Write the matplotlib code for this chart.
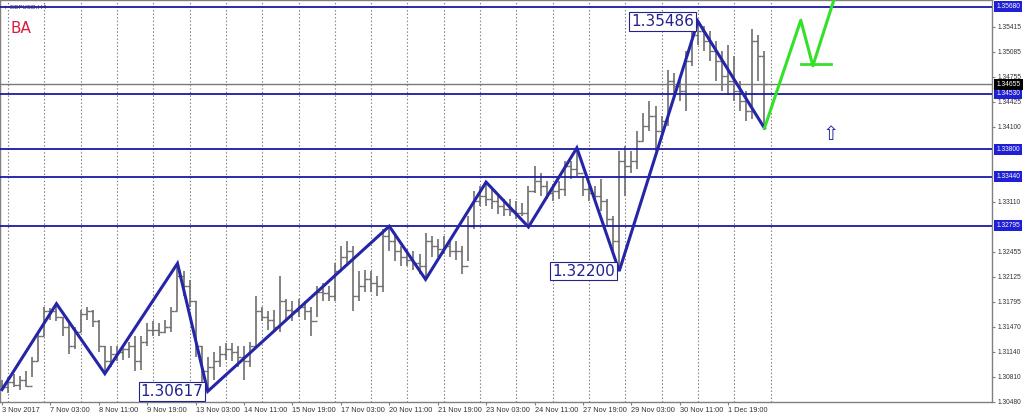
import matplotlib
matplotlib.use("Agg")
import matplotlib.pyplot as plt
from matplotlib.transforms import blended_transform_factory

# ---------------- data (GBPUSD H4) ----------------
highs = [1.3077, 1.3081, 1.3085, 1.3082, 1.3088, 1.3107, 1.3140, 1.3173, 1.3172, 1.3177,
         1.3160, 1.3154, 1.3147, 1.3169, 1.3173, 1.3169, 1.3156, 1.3121, 1.3121, 1.3121,
         1.3123, 1.3127, 1.3134, 1.3134, 1.3151, 1.3154, 1.3151, 1.3156, 1.3173, 1.3230,
         1.3220, 1.3208, 1.3180, 1.3121, 1.3107, 1.3114, 1.3121, 1.3125, 1.3125, 1.3121,
         1.3121, 1.3127, 1.3187, 1.3173, 1.3167, 1.3169, 1.3213, 1.3183, 1.3180, 1.3183,
         1.3180, 1.3173, 1.3200, 1.3204, 1.3200, 1.3230, 1.3253, 1.3259, 1.3253, 1.3220,
         1.3222, 1.3220, 1.3213, 1.3275, 1.3279, 1.3270, 1.3253, 1.3249, 1.3246, 1.3243,
         1.3270, 1.3266, 1.3262, 1.3266, 1.3262, 1.3259, 1.3253, 1.3292, 1.3325, 1.3332,
         1.3337, 1.3328, 1.3319, 1.3315, 1.3315, 1.3312, 1.3309, 1.3332, 1.3358, 1.3349,
         1.3338, 1.3334, 1.3338, 1.3365, 1.3365, 1.3382, 1.3345, 1.3332, 1.3332, 1.3341,
         1.3315, 1.3292, 1.3378, 1.3385, 1.3378, 1.3404, 1.3428, 1.3444, 1.3437, 1.3424,
         1.3484, 1.3481, 1.3477, 1.3510, 1.3547, 1.35486, 1.3543, 1.3536, 1.3523, 1.3510,
         1.3517, 1.3503, 1.3470, 1.3457, 1.3539, 1.3530, 1.3510]
lows = [1.3064, 1.3059, 1.3067, 1.3064, 1.3067, 1.3081, 1.3101, 1.3134, 1.3156, 1.3154,
        1.3134, 1.3111, 1.3117, 1.3140, 1.3156, 1.3147, 1.3114, 1.3085, 1.3094, 1.3101,
        1.3103, 1.3106, 1.3088, 1.3090, 1.3121, 1.3134, 1.3134, 1.3138, 1.3140, 1.3167,
        1.3187, 1.3173, 1.3107, 1.3068, 1.30617, 1.3077, 1.3094, 1.3103, 1.3101, 1.3094,
        1.3077, 1.3094, 1.3121, 1.3154, 1.3143, 1.3140, 1.3140, 1.3156, 1.3154, 1.3160,
        1.3156, 1.3134, 1.3160, 1.3180, 1.3180, 1.3180, 1.3220, 1.3230, 1.3167, 1.3180,
        1.3193, 1.3193, 1.3187, 1.3193, 1.3246, 1.3233, 1.3226, 1.3226, 1.3222, 1.3216,
        1.3209, 1.3239, 1.3239, 1.3243, 1.3239, 1.3235, 1.3216, 1.3233, 1.3275, 1.3305,
        1.3305, 1.3301, 1.3295, 1.3292, 1.3292, 1.3288, 1.3292, 1.3278, 1.3323, 1.3319,
        1.3315, 1.3312, 1.3315, 1.3319, 1.3341, 1.3345, 1.3319, 1.3312, 1.3312, 1.3299,
        1.3279, 1.3246, 1.3220, 1.3319, 1.3349, 1.3354, 1.3391, 1.3404, 1.3378, 1.3404,
        1.3411, 1.3451, 1.3444, 1.3431, 1.3490, 1.3517, 1.3510, 1.3497, 1.3470, 1.3457,
        1.3451, 1.3444, 1.3431, 1.3418, 1.3420, 1.3470, 1.3408]
closes = [1.3068, 1.3074, 1.3070, 1.3077, 1.3069, 1.3101, 1.3134, 1.3167, 1.3167, 1.3160,
          1.3147, 1.3121, 1.3140, 1.3164, 1.3167, 1.3154, 1.3121, 1.3101, 1.3111, 1.3114,
          1.3117, 1.3121, 1.3101, 1.3127, 1.3143, 1.3143, 1.3140, 1.3147, 1.3167, 1.3213,
          1.3200, 1.3180, 1.3121, 1.3088, 1.3094, 1.3101, 1.3111, 1.3117, 1.3114, 1.3107,
          1.3101, 1.3121, 1.3167, 1.3160, 1.3156, 1.3147, 1.3180, 1.3169, 1.3167, 1.3173,
          1.3167, 1.3154, 1.3193, 1.3191, 1.3187, 1.3220, 1.3239, 1.3246, 1.3187, 1.3200,
          1.3209, 1.3204, 1.3200, 1.3266, 1.3259, 1.3246, 1.3239, 1.3235, 1.3230, 1.3226,
          1.3259, 1.3253, 1.3249, 1.3253, 1.3246, 1.3246, 1.3226, 1.3279, 1.3312, 1.3319,
          1.3315, 1.3312, 1.3305, 1.3301, 1.3299, 1.3296, 1.3296, 1.3325, 1.3338, 1.3332,
          1.3323, 1.3325, 1.3328, 1.3358, 1.3354, 1.3349, 1.3328, 1.3323, 1.3319, 1.3312,
          1.3288, 1.3259, 1.3365, 1.3358, 1.3365, 1.3391, 1.3411, 1.3424, 1.3404, 1.3418,
          1.3470, 1.3464, 1.3457, 1.3497, 1.3530, 1.3536, 1.3523, 1.3510, 1.3497, 1.3477,
          1.3470, 1.3457, 1.3444, 1.3431, 1.3523, 1.3503, 1.34655]
first_open = 1.3070

zz_bars = [0, 9, 17, 29, 34, 64, 70, 80, 87, 95, 102, 115, 126]
zz_prices = [1.3064, 1.3177, 1.3085, 1.3230, 1.30617, 1.3279, 1.3209, 1.3337,
             1.3278, 1.3382, 1.3220, 1.35486, 1.3408]
labelled_bars = [34, 102, 115]
labelled_prices = [1.30617, 1.32200, 1.35486]

proj_bars = [126, 132, 134, 138]
proj_prices = [1.3408, 1.3550, 1.3490, 1.3590]
target_bars = [132, 137]
target_price = 1.3492
arrow_bar = 137
arrow_price = 1.3400

blue_levels = [1.35680, 1.34530, 1.33800, 1.33440, 1.32795]
bid_level = 1.34655
price_ticks = [1.35415, 1.35085, 1.34755, 1.34425, 1.34100, 1.33110, 1.32455,
               1.32125, 1.31795, 1.31470, 1.31140, 1.30810, 1.30480]
date_bars = [0, 8, 16, 24, 32, 40, 48, 56, 64, 72, 80, 88, 96, 104, 112, 120]
date_labels = ['3 Nov 2017', '7 Nov 03:00', '8 Nov 11:00', '9 Nov 19:00',
               '13 Nov 03:00', '14 Nov 11:00', '15 Nov 19:00', '17 Nov 03:00',
               '20 Nov 11:00', '21 Nov 19:00', '23 Nov 03:00', '24 Nov 11:00',
               '27 Nov 19:00', '29 Nov 03:00', '30 Nov 11:00', '1 Dec 19:00']
day_start_bars = [1 + 6 * k for k in range(22)]

# ---------------- drawing ----------------
W, H = 1024, 417
fig = plt.figure(figsize=(W / 100, H / 100), dpi=100)
fig.patch.set_facecolor('white')
ax = fig.add_axes([0.0, 15 / H, 992 / W, 402 / H])
ax.set_xlim(-0.33, 163.6)
ax.set_ylim(1.30477, 1.35766)

for s in ax.spines.values():
    s.set_color('#808080')
    s.set_linewidth(1.0)

# daily separators
ax.vlines(day_start_bars, 1.30477, 1.35766, colors='#7a7a7a', linestyles=(0, (1.2, 2.0)),
          linewidth=0.8, zorder=1)

# OHLC bars
n = len(closes)
idx = list(range(n))
opens = [first_open] + closes[:-1]
bar_col = '#6e6e6e'
ax.vlines(idx, lows, highs, colors=bar_col, linewidth=1.2, zorder=2)
ax.hlines(opens, [i - 0.5 for i in idx], idx, colors=bar_col, linewidth=1.0, zorder=2)
ax.hlines(closes, idx, [i + 0.5 for i in idx], colors=bar_col, linewidth=1.0, zorder=2)

# levels
for lv in blue_levels:
    ax.axhline(lv, color='#1a1aa6', linewidth=1.3, zorder=3)
ax.axhline(bid_level, color='#7a7a7a', linewidth=1.0, zorder=3)

# zigzag
ax.plot(zz_bars, zz_prices, color='#2525a8', linewidth=2.2, zorder=4,
        solid_joinstyle='miter')

# projection
ax.plot(proj_bars, proj_prices, color='#35e02a', linewidth=2.2, zorder=4, clip_on=True)
ax.plot(target_bars, [target_price, target_price], color='#35e02a', linewidth=2.0, zorder=4)
ax.text(arrow_bar, arrow_price, '\u21e7', color='#2525a8', fontsize=14,
        ha='center', va='center', zorder=5)

# labelled extremes
for b, p in zip(labelled_bars, labelled_prices):
    ax.annotate(f'{p:.5f}', (b, p), xytext=(-3, 0), textcoords='offset points',
                ha='right', va='center', fontsize=11, color='#23238e',
                family='DejaVu Sans',
                bbox=dict(boxstyle='square,pad=0.12', fc='white', ec='#23238e', lw=0.8),
                zorder=6)

# top-left labels
ax.text(0.004, 0.983, '\u25be GBPUSD,H4', transform=ax.transAxes, fontsize=4.6,
        color='#2a2a70', ha='left', va='center', family='DejaVu Sans', zorder=6)
ax.text(0.011, 0.93, 'BA', transform=ax.transAxes, fontsize=11, color='#d81e3c',
        ha='left', va='center', family='DejaVu Sans', zorder=6)

# right price axis
ax.yaxis.tick_right()
ax.set_yticks(price_ticks)
ax.set_yticklabels([f'{v:.5f}' for v in price_ticks])
ax.tick_params(axis='y', length=2.5, width=0.8, color='#808080', pad=1.5,
               labelsize=4.8, labelcolor='#333333')
for lbl in ax.get_yticklabels():
    lbl.set_family('Liberation Sans')

trans = blended_transform_factory(ax.transAxes, ax.transData)
for lv in blue_levels:
    ax.annotate(f'{lv:.5f}', (1.0, lv), xycoords=trans, xytext=(3.2, 0),
                textcoords='offset points', ha='left', va='center', fontsize=4.8,
                color='white', family='Liberation Sans', annotation_clip=False,
                bbox=dict(boxstyle='square,pad=0.3', fc='#1f1fd6', ec='none'))
ax.annotate(f'{bid_level:.5f}', (1.0, bid_level), xycoords=trans, xytext=(3.2, 0),
            textcoords='offset points', ha='left', va='center', fontsize=4.8,
            color='white', family='Liberation Sans', annotation_clip=False,
            bbox=dict(boxstyle='square,pad=0.3', fc='black', ec='none'))

# bottom date axis
ax.set_xticks(date_bars)
ax.set_xticklabels(date_labels)
ax.tick_params(axis='x', length=2.5, width=0.8, color='#808080', pad=1.0,
               labelsize=5.3, labelcolor='#333333')
for lbl in ax.get_xticklabels():
    lbl.set_horizontalalignment('left')
    lbl.set_family('Liberation Sans')

fig.savefig('out.png', dpi=100, facecolor='white')
